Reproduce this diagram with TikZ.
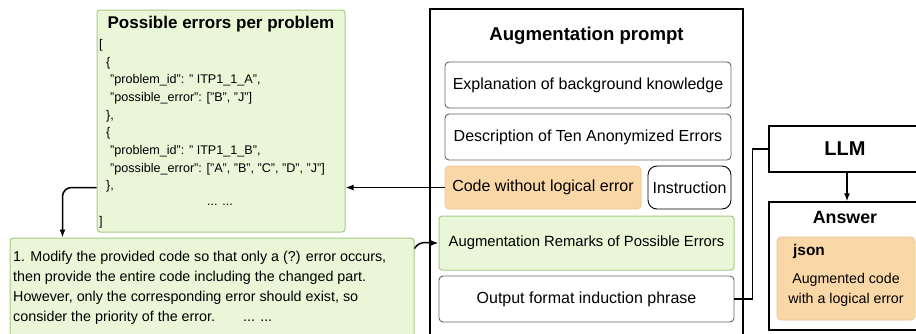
\documentclass[tikz,border=0pt]{standalone}
\usepackage{fontspec}
\setmainfont{Liberation Sans}
\usetikzlibrary{arrows.meta}
\definecolor{greenfill}{HTML}{EAF6D8}
\definecolor{greenline}{HTML}{A6CC86}
\definecolor{orangefill}{HTML}{FAD7A6}
\definecolor{orangeline}{HTML}{E9C48E}
\begin{document}
\begin{tikzpicture}[x=1pt,y=-1pt,
    greenbox/.style={draw=greenline,fill=greenfill,rounded corners=3pt,line width=1pt},
    orangebox/.style={draw=orangeline,fill=orangefill,rounded corners=4pt,line width=0.6pt},
    whitebox/.style={draw=black!60,fill=white,rounded corners=4pt,line width=0.9pt},
    bigbox/.style={draw=black,fill=white,line width=1.4pt},
    body/.style={font=\fontsize{16}{19}\selectfont,inner sep=0pt},
    bold/.style={font=\fontsize{#1}{#1}\selectfont\bfseries,inner sep=0pt},
    arrow/.style={-{Latex[length=8pt,width=6pt]},line width=1.5pt}]
    \useasboundingbox (0,0) rectangle (916,333);
    % possible errors
    \node[greenbox,minimum width=248pt,minimum height=222pt] (errs) at (221,121) {};
    \node[bold=17] (errstitle) at (221,24) {Possible errors per problem};
    \node[anchor=north west,align=left,inner sep=0pt,font=\fontsize{12.6}{17.7}\selectfont] (errsbody) at (99,39)
        {[\\
        \hspace*{7pt}\{\\
        \hspace*{11pt}"problem\_id": " ITP1\_1\_A",\\
        \hspace*{11pt}"possible\_error": ["B", "J"]\\
        \hspace*{7pt}\},\\
        \hspace*{7pt}\{\\
        \hspace*{11pt}"problem\_id": " ITP1\_1\_B",\\
        \hspace*{11pt}"possible\_error": ["A", "B", "C", "D", "J"]\\
        \hspace*{7pt}\},\\
        \\
        ]};
    \node[inner sep=0pt,font=\fontsize{12.6}{12.6}\selectfont] (errsdots) at (220,205) {... ...};
    % instruction text
    \node[greenbox,minimum width=404pt,minimum height=120pt] (instr) at (212,298) {};
    \node[anchor=north west,align=left,inner sep=0pt,font=\fontsize{14.3}{20}\selectfont] (instrtext) at (13,251)
        {1. Modify the provided code so that only a (?) error occurs,\\
        then provide the entire code including the changed part.\\
        However, only the corresponding error should exist, so\\
        consider the priority of the error.\hspace{28pt}... ...};
    % augmentation prompt
    \node[bigbox,minimum width=313pt,minimum height=340pt] (prompt) at (586.5,179) {};
    \node[bold=18.6] (prompttitle) at (586.5,36) {Augmentation prompt};
    \node[whitebox,body,minimum width=286pt,minimum height=46pt] (expl) at (588,85) {Explanation of background knowledge};
    \node[whitebox,body,minimum width=286pt,minimum height=46pt] (desc) at (588,137) {Description of Ten Anonymized Errors};
    \node[orangebox,body,minimum width=196pt,minimum height=43pt] (code) at (543,187.5) {Code without logical error};
    \node[whitebox,body,draw=black,rounded corners=9pt,minimum width=83pt,minimum height=43pt] (instruction) at (689.5,187.5) {Instruction};
    \node[greenbox,body,font=\fontsize{14.8}{17}\selectfont,minimum width=295pt,minimum height=54pt] (remarks) at (586.5,243) {Augmentation Remarks of Possible Errors};
    \node[whitebox,body,minimum width=295pt,minimum height=46pt] (output) at (586.5,299) {Output format induction phrase};
    % llm and answer
    \node[bigbox,minimum width=156pt,minimum height=46pt] (llm) at (847,149) {};
    \node[bold=20] (llmtext) at (845,149) {LLM};
    \node[bigbox,minimum width=156pt,minimum height=128pt] (answer) at (847,266) {};
    \node[bold=17.8] (answertitle) at (845,217) {Answer};
    \node[orangebox,minimum width=138pt,minimum height=83pt] (json) at (846,278.5) {};
    \node[bold=15.4,anchor=west] (jsontitle) at (793,252) {json};
    \node[align=center,inner sep=0pt,font=\fontsize{14.2}{20}\selectfont] (jsontext) at (846,290) {Augmented code\\with a logical error};
    % connectors
    \draw[arrow] (code.west) -- (code.west -| errs.east);
    \draw[arrow,rounded corners=9pt] (errs.west |- code.west) -| ([xshift=53pt]instr.north west);
    \draw[arrow] ([yshift=-11pt]instr.north east) to[out=60,in=180] (remarks.west);
    \draw[line width=1.5pt] (output.east) -- ++(18,0) |- (llm.west);
    \draw[arrow] (llm) -- (answer);
\end{tikzpicture}
\end{document}
